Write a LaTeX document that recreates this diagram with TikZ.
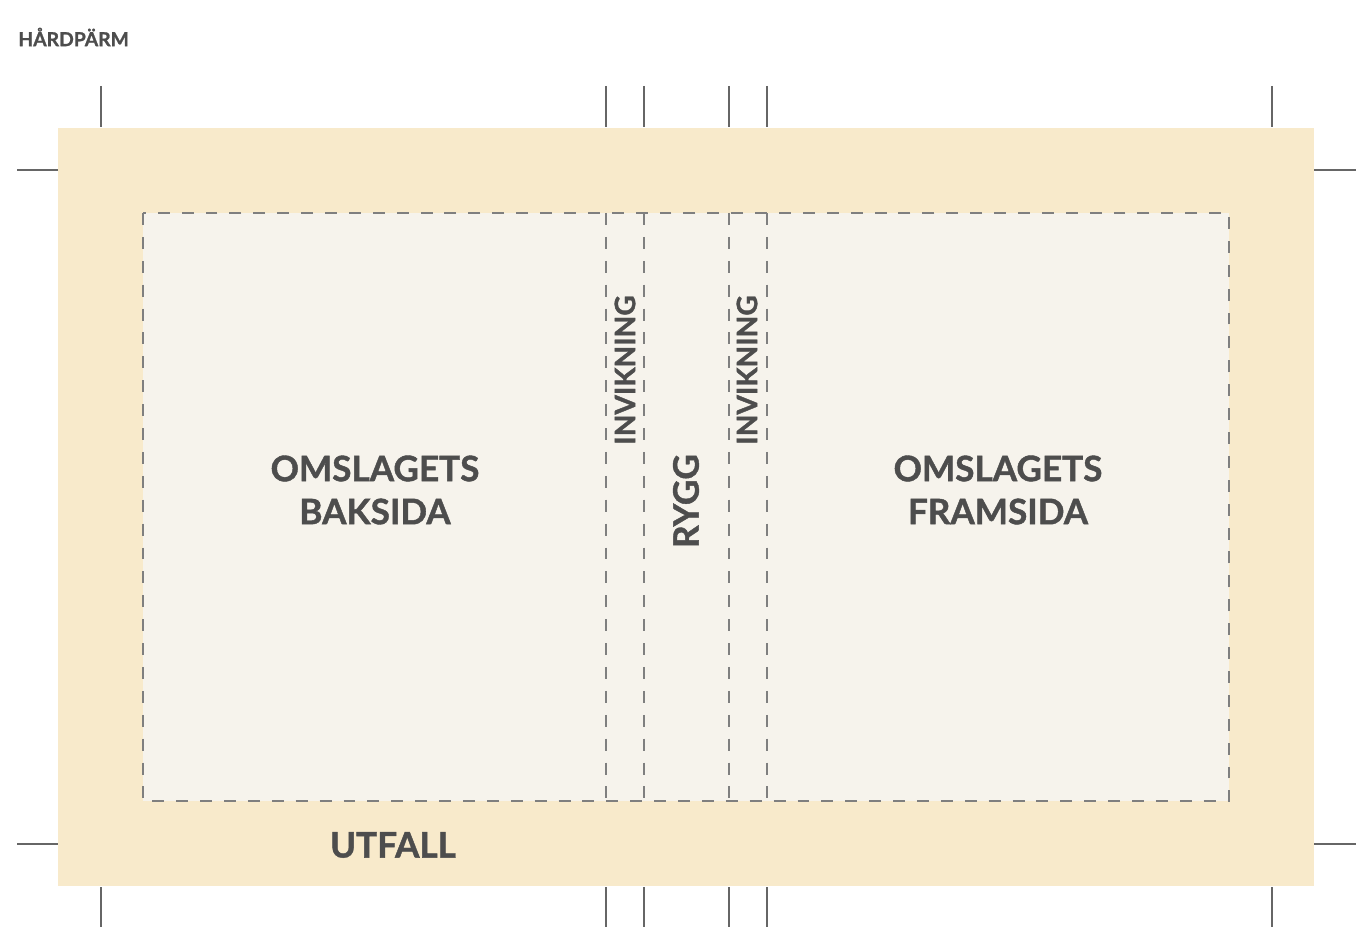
\documentclass[tikz,border=0pt]{standalone}
\usepackage{fontspec}
\setmainfont{Lato}[BoldFeatures={FakeBold=1.2}]
\usetikzlibrary{positioning}

\definecolor{bleed}{HTML}{F8EACB}
\definecolor{paper}{HTML}{F6F3EC}
\definecolor{ink}{HTML}{4D4D4D}
\definecolor{guide}{HTML}{7F7F7F}
\definecolor{cropc}{HTML}{666666}

\begin{document}
\begin{tikzpicture}[x=0.02cm, y=-0.02cm,
  lbl/.style={font=\bfseries\fontsize{20}{24.5}\selectfont, text=ink, align=center, inner sep=0pt},
  foldlbl/.style={font=\bfseries\fontsize{16}{20}\selectfont, text=ink, inner sep=0pt, rotate=90},
  fold/.style={draw=guide, line width=0.6pt, dash pattern=on 6.8pt off 6.8pt},
  cropmark/.style={draw=cropc, line width=1.1pt}]
\useasboundingbox (0,0) rectangle (1357,929);
% bleed area and trimmed cover
\fill[bleed] (58,128) rectangle (1314,886);
\fill[paper] (143,213) rectangle (1229,801);
\draw[fold] (143,213) rectangle (1229,801);
% fold lines: turn-ins and spine
\foreach \x in {606,644,729,767}
  \draw[fold] (\x,213) -- (\x,801);
% crop marks
\foreach \x in {101,606,644,729,767,1272} {
  \draw[cropmark] (\x,86) -- (\x,127);
  \draw[cropmark] (\x,887) -- (\x,927);
}
\foreach \y in {170,844} {
  \draw[cropmark] (17,\y) -- (58,\y);
  \draw[cropmark] (1314,\y) -- (1356,\y);
}
% labels
\node[font=\bfseries\fontsize{11}{13}\selectfont, text=ink, inner sep=0pt, anchor=west] (title) at (18,37) {HÅRDPÄRM};
\node[lbl] (back) at (375,490) {OMSLAGETS\\BAKSIDA};
\node[lbl] (front) at (998,490) {OMSLAGETS\\FRAMSIDA};
\node[foldlbl] (turnL) at (625,370) {INVIKNING};
\node[foldlbl] (turnR) at (747,370) {INVIKNING};
\node[lbl, rotate=90] (spine) at (686,501) {RYGG};
\node[lbl] (bleedlbl) at (393,845) {UTFALL};
\end{tikzpicture}
\end{document}
